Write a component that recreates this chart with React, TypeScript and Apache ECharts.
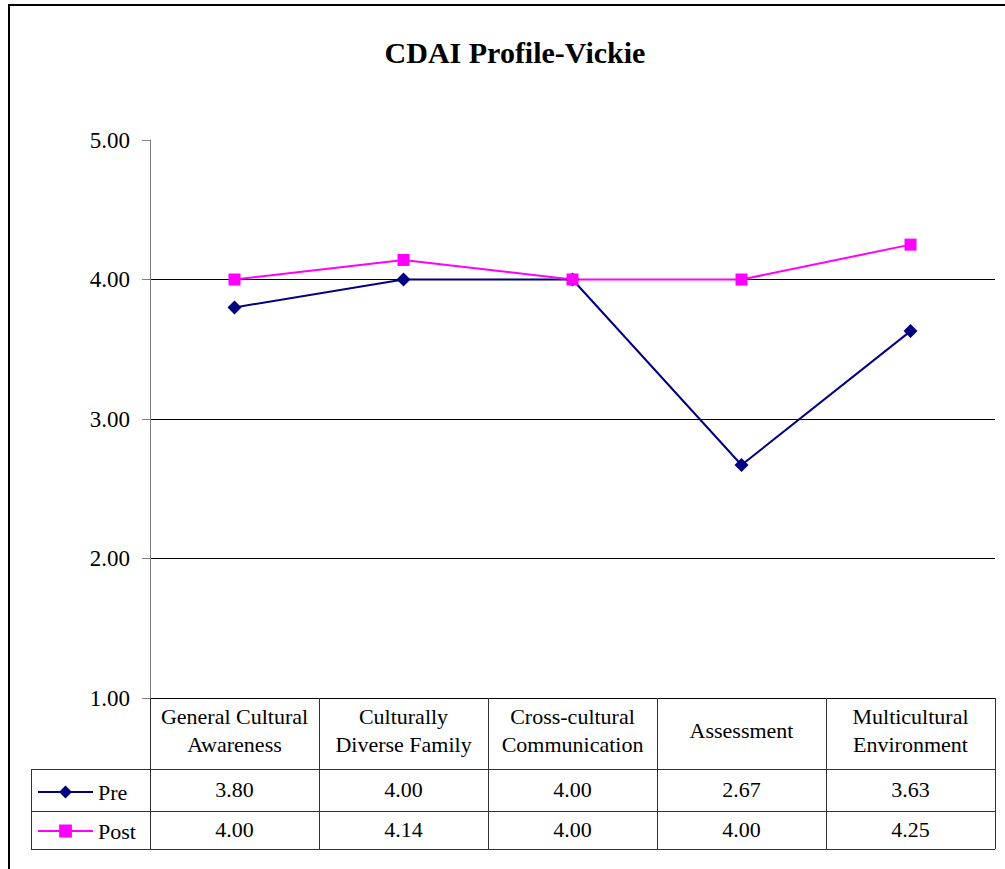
import React, { useEffect, useRef } from "react";
import * as echarts from "echarts";

const categories = [
  "General Cultural\nAwareness",
  "Culturally\nDiverse Family",
  "Cross-cultural\nCommunication",
  "Assessment",
  "Multicultural\nEnvironment",
];
const preValues = [3.8, 4.0, 4.0, 2.67, 3.63];
const postValues = [4.0, 4.14, 4.0, 4.0, 4.25];
const seriesNames = ["Pre", "Post"];
const titleText = "CDAI Profile-Vickie";

const FONT = "Liberation Serif";

export default function App() {
  const ref = useRef<HTMLDivElement>(null);
  useEffect(() => {
    document.body.style.margin = "0";
    const chart = echarts.init(ref.current!, null, { renderer: "svg" });
    const tableLine = "#333";
    const valueAxis = (vals: number[], margin: number) => ({
      type: "category",
      data: categories,
      position: "bottom",
      boundaryGap: true,
      axisLine: { show: false },
      axisTick: { show: false },
      axisLabel: {
        interval: 0,
        margin,
        verticalAlign: "middle",
        fontFamily: FONT,
        fontSize: 22,
        color: "#000",
        formatter: (_v: string, i: number) => vals[i].toFixed(2),
      },
    });
    const legendText = { fontFamily: FONT, fontSize: 22, color: "#000" };
    chart.setOption({
      animation: false,
      backgroundColor: "#fff",
      textStyle: { fontFamily: FONT },
      title: {
        text: titleText,
        left: 510,
        textAlign: "center",
        top: 32,
        textStyle: { fontFamily: FONT, fontSize: 30, fontWeight: "bold", color: "#000" },
      },
      grid: { left: 150, right: 10, top: 140, bottom: 171 },
      xAxis: [
        {
          type: "category",
          data: categories,
          boundaryGap: true,
          axisLine: { show: true, lineStyle: { color: "#000", width: 1 } },
          axisTick: { show: true, length: 151, alignWithLabel: false, lineStyle: { color: tableLine, width: 1 } },
          axisLabel: {
            interval: 0,
            margin: 32,
            verticalAlign: "middle",
            fontFamily: FONT,
            fontSize: 22,
            lineHeight: 28,
            color: "#000",
          },
          splitLine: { show: false },
        },
        valueAxis(preValues, 91),
        valueAxis(postValues, 131),
      ],
      yAxis: {
        type: "value",
        min: 1,
        max: 5,
        interval: 1,
        axisLine: { show: true, lineStyle: { color: "#808080", width: 1 } },
        axisTick: { show: true, length: 8, lineStyle: { color: "#808080" } },
        axisLabel: {
          formatter: (v: number) => v.toFixed(2),
          fontFamily: FONT,
          fontSize: 23,
          color: "#000",
          margin: 20,
        },
        splitLine: {
          show: true,
          showMinLine: false,
          showMaxLine: false,
          lineStyle: { color: "#000", width: 1 },
        },
      },
      legend: [
        {
          data: [seriesNames[0]],
          left: 32,
          top: 776,
          padding: 5,
          itemWidth: 55,
          itemHeight: 16,
          itemGap: 0,
          textStyle: legendText,
        },
        {
          data: [seriesNames[1]],
          left: 32,
          top: 815,
          padding: 5,
          itemWidth: 55,
          itemHeight: 16,
          itemGap: 0,
          textStyle: legendText,
        },
      ],
      series: [
        {
          name: seriesNames[0],
          type: "line",
          data: preValues,
          color: "#000080",
          symbol: "diamond",
          symbolSize: 14,
          lineStyle: { width: 2, color: "#000080" },
          itemStyle: { color: "#000080" },
        },
        {
          name: seriesNames[1],
          type: "line",
          data: postValues,
          color: "#FF00FF",
          symbol: "rect",
          symbolSize: 12,
          lineStyle: { width: 2, color: "#FF00FF" },
          itemStyle: { color: "#FF00FF" },
        },
      ],
      graphic: [
        { type: "line", shape: { x1: 31, y1: 769.5, x2: 995, y2: 769.5 }, style: { stroke: tableLine, lineWidth: 1 } },
        { type: "line", shape: { x1: 31, y1: 811.5, x2: 995, y2: 811.5 }, style: { stroke: tableLine, lineWidth: 1 } },
        { type: "line", shape: { x1: 31, y1: 849.5, x2: 995, y2: 849.5 }, style: { stroke: tableLine, lineWidth: 1 } },
        { type: "line", shape: { x1: 31.5, y1: 769, x2: 31.5, y2: 850 }, style: { stroke: tableLine, lineWidth: 1 } },
        { type: "line", shape: { x1: 9, y1: 5, x2: 1005, y2: 5 }, style: { stroke: "#000", lineWidth: 2 } },
        { type: "line", shape: { x1: 9, y1: 4, x2: 9, y2: 869 }, style: { stroke: "#000", lineWidth: 2 } },
      ],
    });
    return () => chart.dispose();
  }, []);
  return (
    <div
      ref={ref}
      style={{ position: "absolute", left: 0, top: 0, width: 1005, height: 869, background: "#fff" }}
    />
  );
}
